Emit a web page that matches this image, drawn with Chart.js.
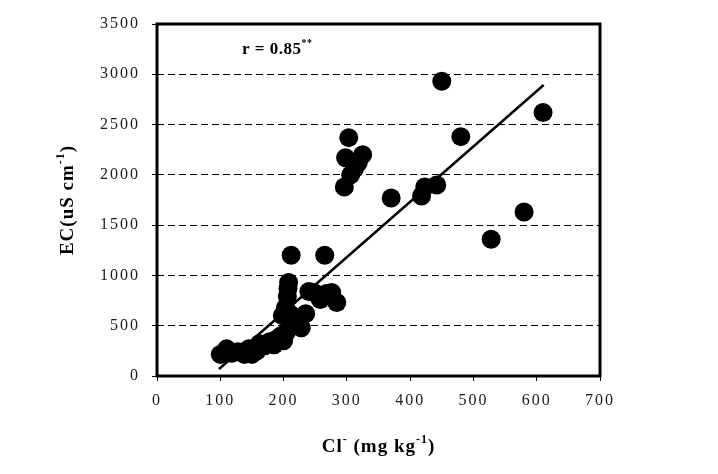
<!DOCTYPE html>
<html>
<head>
<meta charset="utf-8">
<script src="https://cdn.jsdelivr.net/npm/chart.js@4/dist/chart.umd.min.js"></script>
<style>
  html, body { margin: 0; padding: 0; background: #fff; }
  #c { display: block; }
</style>
</head>
<body>
<canvas id="c" width="718" height="474"></canvas>
<script>
// Cl- (mg/kg) and EC (uS/cm) observations
const clValues = [100, 110, 118, 128, 138, 145, 150, 158, 162, 170, 178, 185, 190, 196, 200, 205,
  198, 203, 206, 207, 208, 212, 210, 215, 222, 228, 235, 240, 248, 258, 265, 268, 276, 284,
  296, 298, 303, 306, 312, 318, 325, 370, 418, 423, 442, 450, 480, 528, 580, 610];
const ecValues = [215, 270, 225, 240, 215, 270, 215, 250, 320, 300, 340, 310, 370, 400, 350, 440,
  600, 680, 790, 870, 930, 1200, 620, 520, 580, 480, 620, 840, 830, 760, 1200, 820, 830, 730,
  1880, 2170, 2370, 2000, 2060, 2120, 2200, 1770, 1790, 1880, 1900, 2930, 2380, 1360, 1630, 2620];
// regression line end points
const fitCl = [98, 611];
const fitEc = [70, 2893];
// axes
const xTickValues = [0, 100, 200, 300, 400, 500, 600, 700];
const yTickValues = [0, 500, 1000, 1500, 2000, 2500, 3000, 3500];
const xTitle = [{t: 'Cl'}, {t: '-', sup: true}, {t: ' (mg kg'}, {t: '-1', sup: true}, {t: ')'}];
const yTitle = [{t: 'EC(uS cm'}, {t: '-1', sup: true}, {t: ')'}];
const rLabel = [{t: 'r = 0.85'}, {t: '**', sup: true}];

const SERIF = "'Liberation Serif', 'Times New Roman', serif";

function drawSegments(ctx, segs, x, y, size, supSize, supRise, align) {
  let total = 0;
  const widths = segs.map(s => {
    ctx.font = 'bold ' + (s.sup ? supSize : size) + 'px ' + SERIF;
    const w = ctx.measureText(s.t).width;
    total += w;
    return w;
  });
  let cx = align === 'left' ? x : x - total / 2;
  segs.forEach((s, i) => {
    ctx.font = 'bold ' + (s.sup ? supSize : size) + 'px ' + SERIF;
    ctx.fillText(s.t, cx, s.sup ? y - supRise : y);
    cx += widths[i];
  });
}

const decor = {
  id: 'decor',
  beforeDraw(chart) {
    chart.ctx.letterSpacing = '2px';
  },
  afterDraw(chart) {
    const {ctx, chartArea: a} = chart;
    ctx.save();
    ctx.strokeStyle = '#000';
    ctx.lineWidth = 3;
    ctx.setLineDash([]);
    ctx.strokeRect(a.left, a.top, a.right - a.left, a.bottom - a.top);

    ctx.fillStyle = '#000';
    ctx.textBaseline = 'alphabetic';
    ctx.textAlign = 'left';
    ctx.letterSpacing = '1px';
    // x title
    drawSegments(ctx, xTitle, (a.left + a.right) / 2, 452, 19, 12, 9, 'center');
    // y title
    ctx.save();
    ctx.translate(73, (a.top + a.bottom) / 2);
    ctx.rotate(-Math.PI / 2);
    drawSegments(ctx, yTitle, 0, 0, 19, 12, 9, 'center');
    ctx.restore();
    // r label
    ctx.letterSpacing = '0.5px';
    drawSegments(ctx, rLabel, 242, 54, 17, 10, 8, 'left');
    ctx.restore();
  }
};

new Chart(document.getElementById('c'), {
  data: {
    datasets: [
      {
        type: 'scatter',
        data: clValues.map((x, i) => ({x: x, y: ecValues[i]})),
        backgroundColor: '#000',
        borderWidth: 0,
        pointRadius: 9.5,
        pointHoverRadius: 9.5,
        order: 2
      },
      {
        type: 'line',
        data: fitCl.map((x, i) => ({x: x, y: fitEc[i]})),
        borderColor: '#000',
        borderWidth: 2.5,
        pointRadius: 0,
        fill: false,
        order: 1
      }
    ]
  },
  options: {
    responsive: false,
    animation: false,
    devicePixelRatio: 1,
    layout: { padding: { left: 0, top: 24, right: 118, bottom: 0 } },
    plugins: { legend: { display: false }, tooltip: { enabled: false } },
    scales: {
      x: {
        type: 'linear',
        min: 0, max: 700,
        afterFit(scale) { scale.height = 98; },
        afterBuildTicks(scale) { scale.ticks = xTickValues.map(v => ({value: v})); },
        border: { display: false },
        grid: { drawOnChartArea: false, drawTicks: true, tickLength: 5, tickColor: '#000', tickWidth: 1 },
        ticks: { color: '#1a1a1a', padding: 10, font: { family: SERIF, size: 16 }, callback: v => String(v) }
      },
      y: {
        type: 'linear',
        min: 0, max: 3500,
        afterFit(scale) { scale.width = 157; },
        afterBuildTicks(scale) { scale.ticks = yTickValues.map(v => ({value: v})); },
        border: { display: false, dash: [7, 4] },
        grid: {
          color: c => (c.tick && (c.tick.value === 0 || c.tick.value === 3500)) ? 'rgba(0,0,0,0)' : '#000',
          lineWidth: 1,
          drawTicks: true, tickLength: 5, tickColor: '#000', tickWidth: 1
        },
        ticks: { color: '#1a1a1a', padding: 12, font: { family: SERIF, size: 16 }, callback: v => String(v) }
      }
    }
  },
  plugins: [decor]
});
</script>
</body>
</html>
